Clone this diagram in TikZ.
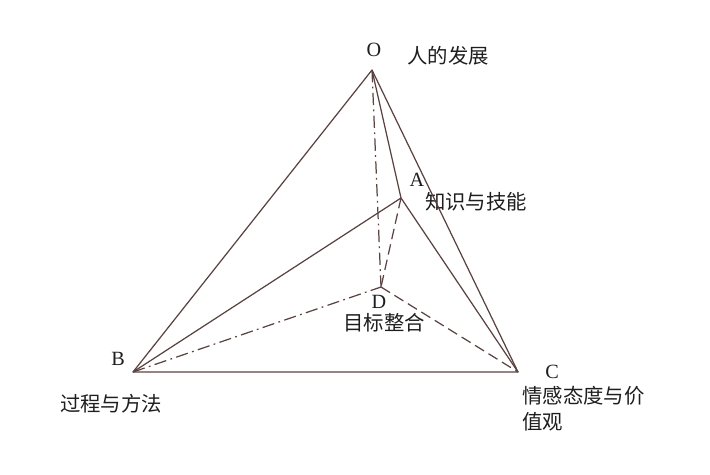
\documentclass[tikz,border=0pt]{standalone}
\usepackage{fontspec}
\setmainfont{Liberation Serif}
\newfontfamily\cjk{Noto Sans CJK SC}
\usepackage{tikz}
\definecolor{edgebrown}{RGB}{90,66,64}
\definecolor{inkgray}{RGB}{30,30,30}

\begin{document}
\begin{tikzpicture}
[
x=0.02cm,y=-0.02cm,
edge/.style={draw=edgebrown,line width=0.7pt,line join=round},
dashdot line/.style={edge,dash pattern=on 7pt off 2.5pt on 1pt off 2.5pt},
dash line/.style={edge,dash pattern=on 6pt off 3pt},
letter/.style={inner sep=0pt,text=inkgray,font=\fontsize{11.5}{13}\selectfont},
tag/.style={inner sep=0pt,text=inkgray,font=\cjk\fontsize{11.6}{14.8}\selectfont},
]
\useasboundingbox (0,0) rectangle (710,474);

%Place the vertices
\coordinate (o) at (372,70);
\coordinate (a) at (401,198);
\coordinate (d) at (381,287);
\coordinate (b) at (133,372);
\coordinate (c) at (518,372);

%Place the labels
\node[letter] (lo) at (374,50) {O};
\node[tag] (to) at (448,56) {人的发展};
\node[letter] (la) at (417,180) {A};
\node[tag] (ta) at (476,202) {知识与技能};
\node[letter] (ld) at (379,302) {D};
\node[tag] (td) at (384,323) {目标整合};
\node[letter] (lb) at (118,359) {B};
\node[tag] (tb) at (111,404) {过程与方法};
\node[letter] (lc) at (552,372) {C};
\node[tag,anchor=north west,align=left] (tc) at (522,386) {情感态度与价\\值观};

%Draw the edges
\draw[edge] (o) -- (b) -- (c) -- cycle;
\draw[edge] (o) -- (a);
\draw[edge] (b) -- (a) -- (c);
\draw[dashdot line] (o) -- (d);
\draw[dashdot line] (b) -- (d);
\draw[dash line] (a) -- (d);
\draw[dash line] (d) -- (c);
\end{tikzpicture}
\end{document}
